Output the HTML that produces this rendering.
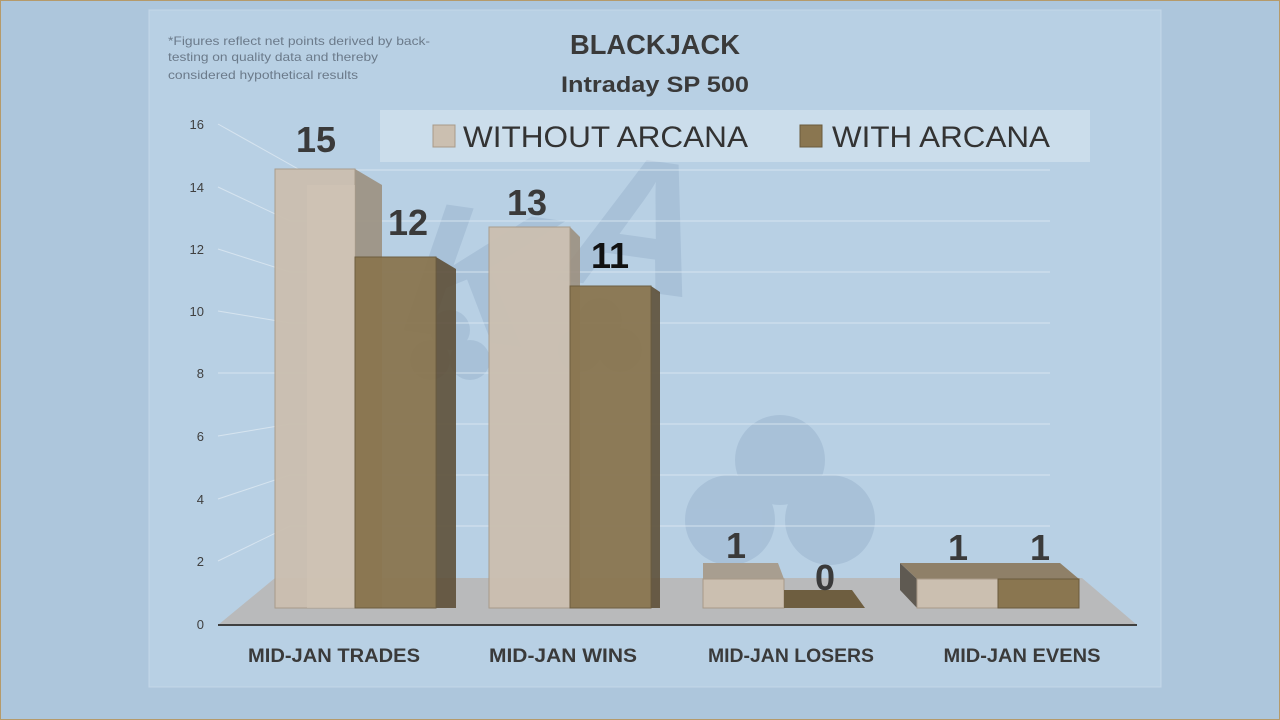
<!DOCTYPE html>
<html><head><meta charset="utf-8"><style>
html,body{margin:0;padding:0;background:#adc6dc;}
svg{display:block;font-family:"Liberation Sans","DejaVu Sans",sans-serif;}
</style></head><body>
<svg width="1280" height="720" viewBox="0 0 1280 720">
<rect x="0" y="0" width="1280" height="720" fill="#adc6dc"/>
<rect x="0.5" y="0.5" width="1279" height="719" fill="none" stroke="#b59a6a" stroke-width="1"/>
<rect x="149" y="10" width="1012" height="677" fill="#b8d0e4" stroke="#c4d7e8"/>
<!-- watermark -->
<g opacity="0.16" fill="#5a78a0">
<text x="400" y="330" font-size="190" font-weight="bold" font-style="italic" transform="rotate(8 400 330)">K</text>
<text x="560" y="280" font-size="190" font-weight="bold" font-style="italic" transform="rotate(8 560 280)">A</text>
<circle cx="780" cy="460" r="45"/><circle cx="730" cy="520" r="45"/><circle cx="830" cy="520" r="45"/>
<circle cx="600" cy="320" r="22"/><circle cx="580" cy="350" r="22"/><circle cx="620" cy="350" r="22"/>
<circle cx="450" cy="330" r="20"/><circle cx="430" cy="360" r="20"/><circle cx="470" cy="360" r="20"/>
</g>
<!-- gridlines -->
<g stroke="#dce8f2" stroke-width="1" opacity="0.85" fill="none">
<polyline points="218,124 300,170 1050,170"/>
<polyline points="218,187 290,221 1050,221"/>
<polyline points="218,249 290,272 1050,272"/>
<polyline points="218,311 290,323 1050,323"/>
<polyline points="218,373 290,373 1050,373"/>
<polyline points="218,436 290,424 1050,424"/>
<polyline points="218,499 290,475 1050,475"/>
<polyline points="218,561 290,526 1050,526"/>
</g>
<!-- floor -->
<polygon points="218,625 275,578 1082,578 1137,625" fill="#b8b8b8" opacity="0.95"/>
<line x1="218" y1="625" x2="1137" y2="625" stroke="#404040" stroke-width="2"/>
<!-- y ticks -->
<g font-size="13" fill="#404040" text-anchor="end">
<text x="204" y="129">16</text><text x="204" y="192">14</text><text x="204" y="254">12</text>
<text x="204" y="316">10</text><text x="204" y="378">8</text><text x="204" y="441">6</text>
<text x="204" y="504">4</text><text x="204" y="566">2</text><text x="204" y="629">0</text>
</g>
<!-- bars -->
<g>
<polygon points="355,169 382,185 382,608 355,608" fill="#9c9080" opacity="0.9"/>
<rect x="275" y="169" width="80" height="439" fill="#cbbfb0" stroke="#a89a88" opacity="0.95"/>
<rect x="307" y="185" width="48" height="423" fill="#d0c5b6" opacity="0.6"/>
<polygon points="436,257 456,269 456,608 436,608" fill="#5e5038" opacity="0.9"/>
<rect x="355" y="257" width="81" height="351" fill="#8a7650" stroke="#6a5a3c" opacity="0.95"/>
<polygon points="570,227 580,237 580,608 570,608" fill="#9c9080" opacity="0.9"/>
<rect x="489" y="227" width="81" height="381" fill="#cbbfb0" stroke="#a89a88" opacity="0.95"/>
<polygon points="651,286 660,292 660,608 651,608" fill="#5e5038" opacity="0.9"/>
<rect x="570" y="286" width="81" height="322" fill="#8a7650" stroke="#6a5a3c" opacity="0.95"/>
<polygon points="703,563 778,563 784,579 703,579" fill="#a89e90"/>
<rect x="703" y="579" width="81" height="29" fill="#cbbfb0" stroke="#a89a88"/>
<polygon points="784,590 852,590 865,608 784,608" fill="#6e5e40"/>
<polygon points="900,563 917,579 917,608 900,590" fill="#5f5a52"/>
<polygon points="900,563 1060,563 1079,579 917,579" fill="#8f8068"/>
<rect x="917" y="579" width="81" height="29" fill="#cbbfb0" stroke="#a89a88"/>
<rect x="998" y="579" width="81" height="29" fill="#8a7650" stroke="#6a5a3c"/>
</g>
<!-- value labels -->
<g font-size="36" font-weight="bold" fill="#3a3a3a" text-anchor="middle">
<text x="316" y="152">15</text><text x="408" y="235">12</text>
<text x="527" y="215">13</text><text x="610" y="268" fill="#111">11</text>
<text x="736" y="558">1</text><text x="825" y="590">0</text>
<text x="958" y="560">1</text><text x="1040" y="560">1</text>
</g>
<!-- legend -->
<rect x="380" y="110" width="710" height="52" fill="#ffffff" opacity="0.28"/>
<rect x="433" y="125" width="22" height="22" fill="#cbbfb0" stroke="#a89a88"/>
<text x="463" y="147" font-size="30" fill="#333" textLength="285" lengthAdjust="spacingAndGlyphs">WITHOUT ARCANA</text>
<rect x="800" y="125" width="22" height="22" fill="#8a7650" stroke="#6a5a3c"/>
<text x="832" y="147" font-size="30" fill="#333" textLength="218" lengthAdjust="spacingAndGlyphs">WITH ARCANA</text>
<!-- titles -->
<text x="655" y="54" font-size="28" font-weight="bold" fill="#3a3a3a" text-anchor="middle" textLength="170" lengthAdjust="spacingAndGlyphs">BLACKJACK</text>
<text x="655" y="92" font-size="22" font-weight="bold" fill="#3a3a3a" text-anchor="middle" textLength="188" lengthAdjust="spacingAndGlyphs">Intraday SP 500</text>
<g font-size="12" fill="#6b7a8a">
<text x="168" y="45" textLength="262" lengthAdjust="spacingAndGlyphs">*Figures  reflect net points derived by back-</text>
<text x="168" y="61" textLength="210" lengthAdjust="spacingAndGlyphs">testing on quality data and thereby</text>
<text x="168" y="79" textLength="190" lengthAdjust="spacingAndGlyphs">considered hypothetical results</text>
</g>
<!-- categories -->
<g font-size="19" font-weight="bold" fill="#3a3a3a" text-anchor="middle">
<text x="334" y="662" textLength="172" lengthAdjust="spacingAndGlyphs">MID-JAN TRADES</text>
<text x="563" y="662" textLength="148" lengthAdjust="spacingAndGlyphs">MID-JAN WINS</text>
<text x="791" y="662" textLength="166" lengthAdjust="spacingAndGlyphs">MID-JAN LOSERS</text>
<text x="1022" y="662" textLength="157" lengthAdjust="spacingAndGlyphs">MID-JAN EVENS</text>
</g>
</svg>
</body></html>
